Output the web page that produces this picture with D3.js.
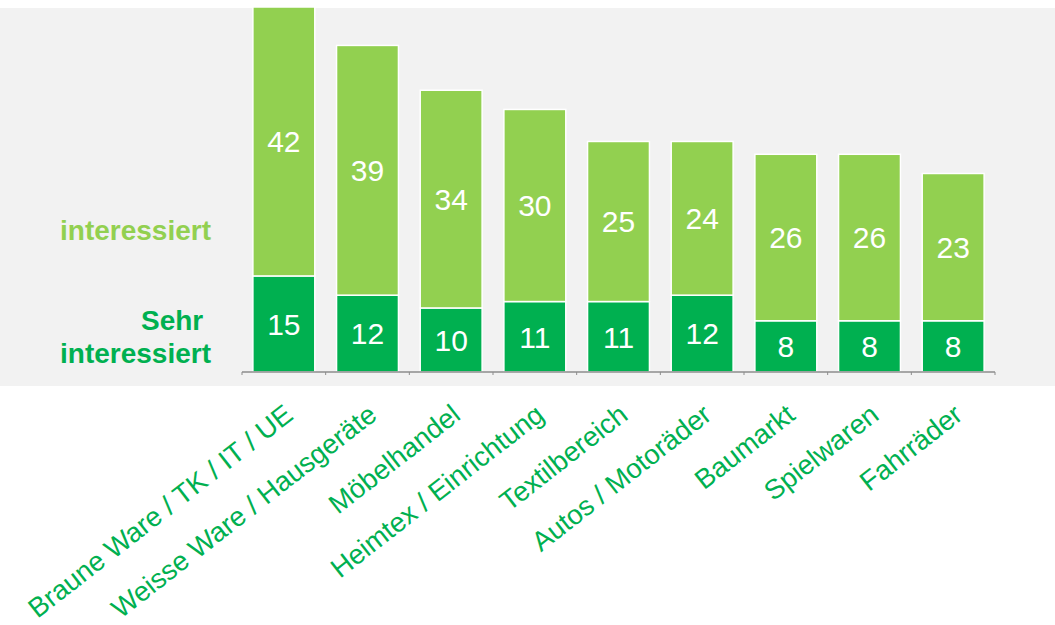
<!DOCTYPE html>
<html>
<head>
<meta charset="utf-8">
<script src="https://cdn.jsdelivr.net/npm/d3@7"></script>
<style>
  body { margin: 0; background: #fff; }
  svg { display: block; font-family: "Liberation Sans", Arial, sans-serif; }
</style>
</head>
<body>
<div id="chart"></div>
<script>
var svgWidth = 1055;
var svgHeight = 625;

// Data
var categories = ["Braune Ware / TK / IT / UE", "Weisse Ware / Hausgeräte", "Möbelhandel",
  "Heimtex / Einrichtung", "Textilbereich", "Autos / Motoräder", "Baumarkt", "Spielwaren", "Fahrräder"];
var sehrInteressiert = [15, 12, 10, 11, 11, 12, 8, 8, 8];
var interessiert = [42, 39, 34, 30, 25, 24, 26, 26, 23];
var seriesNames = ["Sehr interessiert", "interessiert"];

var darkGreen = "#00B050";
var lightGreen = "#92D050";

var svg = d3.select("#chart")
  .append("svg")
  .attr("width", svgWidth)
  .attr("height", svgHeight);

// grey plot background
svg.append("rect")
  .attr("x", 0)
  .attr("y", 8)
  .attr("width", svgWidth)
  .attr("height", 378)
  .attr("fill", "#F2F2F2");

var x = d3.scaleBand()
  .domain(categories)
  .range([242, 995])
  .paddingInner(0.26)
  .paddingOuter(0.13);

var y = d3.scaleLinear()
  .domain([0, 57])
  .range([372, 7]);

var table = categories.map(function(c, i) {
  return { cat: c, sehr: sehrInteressiert[i], inter: interessiert[i] };
});
var stacked = d3.stack().keys(["sehr", "inter"])(table);
var colors = [darkGreen, lightGreen];

var layers = svg.selectAll(".layer")
  .data(stacked)
  .enter()
  .append("g")
  .attr("class", "layer")
  .attr("fill", (d, i) => colors[i]);

layers.selectAll("rect")
  .data(d => d)
  .enter()
  .append("rect")
  .attr("x", d => x(d.data.cat))
  .attr("y", d => y(d[1]))
  .attr("width", x.bandwidth())
  .attr("height", d => y(d[0]) - y(d[1]))
  .attr("stroke", "#fff")
  .attr("stroke-width", 1.5);

// value labels
layers.selectAll("text")
  .data(d => d)
  .enter()
  .append("text")
  .attr("x", d => x(d.data.cat) + x.bandwidth() / 2)
  .attr("y", d => (y(d[0]) + y(d[1])) / 2)
  .attr("dy", "0.36em")
  .attr("text-anchor", "middle")
  .attr("fill", "#fff")
  .attr("font-size", "30px")
  .text(d => d[1] - d[0]);

// x axis
var xAxis = svg.append("g")
  .attr("transform", "translate(0, 372)");

xAxis.append("line")
  .attr("x1", 242)
  .attr("x2", 995)
  .attr("stroke", "#8c8c8c")
  .attr("stroke-width", 1.5);

var step = x.step();
var axisStart = 242;
xAxis.selectAll(".tick")
  .data(d3.range(categories.length + 1))
  .enter()
  .append("line")
  .attr("x1", i => axisStart + i * step)
  .attr("x2", i => axisStart + i * step)
  .attr("y1", 0)
  .attr("y2", 3)
  .attr("stroke", "#8c8c8c")
  .attr("stroke-width", 1);

// rotated category labels
svg.selectAll(".catLabel")
  .data(categories)
  .enter()
  .append("text")
  .attr("class", "catLabel")
  .attr("transform", d => `translate(${x(d) + x.bandwidth() / 2 + 11}, 418) rotate(-38)`)
  .attr("text-anchor", "end")
  .attr("fill", darkGreen)
  .attr("font-size", "27.5px")
  .text(d => d);

// series labels on the left
svg.append("text")
  .attr("x", 211)
  .attr("y", 240)
  .attr("text-anchor", "end")
  .attr("fill", lightGreen)
  .attr("font-weight", "bold")
  .attr("font-size", "28px")
  .text(seriesNames[1]);

var sehrLabel = svg.append("text")
  .attr("text-anchor", "end")
  .attr("fill", darkGreen)
  .attr("font-weight", "bold")
  .attr("font-size", "28px");
sehrLabel.append("tspan")
  .attr("x", 211)
  .attr("y", 330)
  .text(seriesNames[0].split(" ")[0] + "\u00A0");
sehrLabel.append("tspan")
  .attr("x", 211)
  .attr("y", 363)
  .text(seriesNames[0].split(" ")[1]);
</script>
</body>
</html>
